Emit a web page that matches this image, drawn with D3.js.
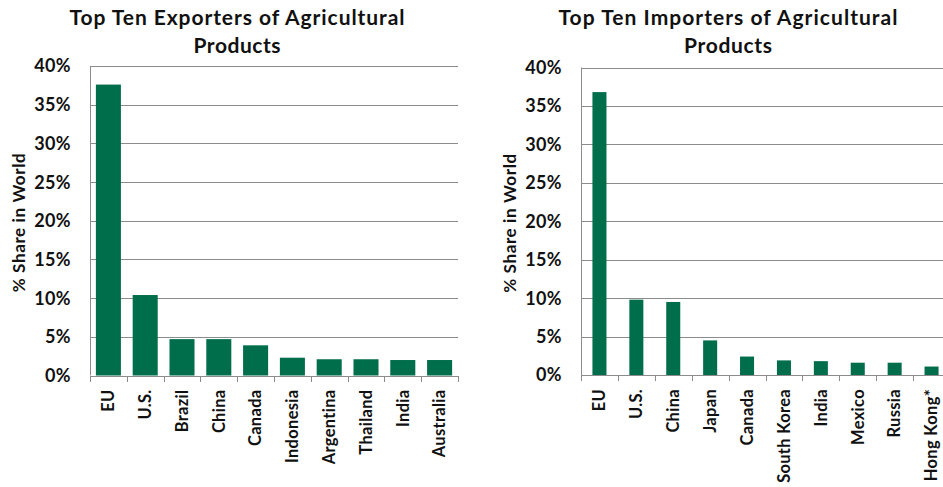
<!DOCTYPE html>
<html>
<head>
<meta charset="utf-8">
<script src="https://cdn.jsdelivr.net/npm/d3@7"></script>
<style>
  body { margin: 0; background: #fff; }
  text { font-family: Lato, "Open Sans", sans-serif; font-weight: bold; fill: #111; }
</style>
</head>
<body>
<div id="chart"></div>
<script>
// Exporters panel
const exportCountries = ['EU', 'U.S.', 'Brazil', 'China', 'Canada', 'Indonesia', 'Argentina', 'Thailand', 'India', 'Australia'];
const exportShares = [37.6, 10.4, 4.7, 4.7, 3.9, 2.3, 2.1, 2.1, 2.0, 2.0];

// Importers panel
const importCountries = ['EU', 'U.S.', 'China', 'Japan', 'Canada', 'South Korea', 'India', 'Mexico', 'Russia', 'Hong Kong*'];
const importShares = [36.8, 9.8, 9.5, 4.5, 2.4, 1.9, 1.8, 1.6, 1.6, 1.1];

const yTicks = [0, 5, 10, 15, 20, 25, 30, 35, 40];

const W = 943, H = 487;
const barColor = '#006d4b';
const gridColor = '#8c8c8c';

const svg = d3.select('#chart').append('svg')
    .attr('width', W)
    .attr('height', H);

function drawPanel(opts) {
    const g = svg.append('g');

    const x = d3.scaleBand()
        .domain(opts.categories)
        .range([opts.left, opts.right])
        .paddingInner(opts.pad)
        .paddingOuter(opts.pad / 2);

    const y = d3.scaleLinear()
        .domain([0, 40])
        .range([opts.bottom, opts.top]);

    // gridlines
    g.selectAll('.grid').data(yTicks.filter(d => d > 0)).enter().append('line')
        .attr('x1', opts.left).attr('x2', opts.right)
        .attr('y1', d => Math.round(y(d)) + 0.5).attr('y2', d => Math.round(y(d)) + 0.5)
        .attr('stroke', gridColor).attr('stroke-width', 1);

    // y tick labels
    g.selectAll('.ylab').data(yTicks).enter().append('text')
        .attr('x', opts.left - 19)
        .attr('y', d => y(d))
        .attr('dy', '0.36em')
        .attr('text-anchor', 'end')
        .style('font-size', '18px')
        .style('letter-spacing', '0.4px')
        .text(d => d + '%');

    // bars
    g.selectAll('.bar').data(opts.values).enter().append('rect')
        .attr('x', (d, i) => x(opts.categories[i]))
        .attr('width', x.bandwidth())
        .attr('y', d => y(d))
        .attr('height', d => y(0) - y(d))
        .attr('fill', barColor);

    // axis lines
    g.append('line')
        .attr('x1', opts.left + 0.5).attr('x2', opts.left + 0.5)
        .attr('y1', y(40)).attr('y2', y(0))
        .attr('stroke', gridColor);
    g.append('line')
        .attr('x1', opts.left).attr('x2', opts.right)
        .attr('y1', Math.round(y(0)) + 0.5).attr('y2', Math.round(y(0)) + 0.5)
        .attr('stroke', gridColor);

    // category boundary ticks
    const step = x.step();
    g.selectAll('.xtick').data(d3.range(opts.categories.length + 1)).enter().append('line')
        .attr('x1', i => Math.round(opts.left + i * step) + 0.5)
        .attr('x2', i => Math.round(opts.left + i * step) + 0.5)
        .attr('y1', Math.round(y(0))).attr('y2', Math.round(y(0)) + 6)
        .attr('stroke', gridColor);

    // category labels (rotated)
    g.selectAll('.xlab').data(opts.categories).enter().append('text')
        .attr('transform', d => `translate(${x(d) + x.bandwidth() / 2},${y(0) + 14}) rotate(-90)`)
        .attr('dy', '0.35em')
        .attr('text-anchor', 'end')
        .style('font-size', '16.5px')
        .style('letter-spacing', '0.3px')
        .text(d => d);

    // y axis title
    g.append('text')
        .attr('transform', `translate(${opts.left - 71},${(y(0) + y(40)) / 2 + 2}) rotate(-90)`)
        .attr('dy', '0.35em')
        .attr('text-anchor', 'middle')
        .style('font-size', '17px')
        .attr('textLength', 139)
        .attr('lengthAdjust', 'spacing')
        .text('% Share in World');

    // title
    opts.title.forEach((t, i) => {
        g.append('text')
            .attr('x', opts.titleX)
            .attr('y', 25 + i * 28)
            .attr('text-anchor', 'middle')
            .style('font-size', '21px')
            .attr('textLength', opts.titleLen[i])
            .attr('lengthAdjust', 'spacing')
            .text(t);
    });
}

drawPanel({
    categories: exportCountries,
    values: exportShares,
    left: 90, right: 458, top: 66, bottom: 375.5,
    pad: 0.32,
    titleX: 237,
    titleLen: [335, 87],
    title: ['Top Ten Exporters of Agricultural', 'Products']
});

drawPanel({
    categories: importCountries,
    values: importShares,
    left: 581, right: 950, top: 67.5, bottom: 375,
    pad: 0.62,
    titleX: 728,
    titleLen: [339, 88],
    title: ['Top Ten Importers of Agricultural', 'Products']
});
</script>
</body>
</html>
